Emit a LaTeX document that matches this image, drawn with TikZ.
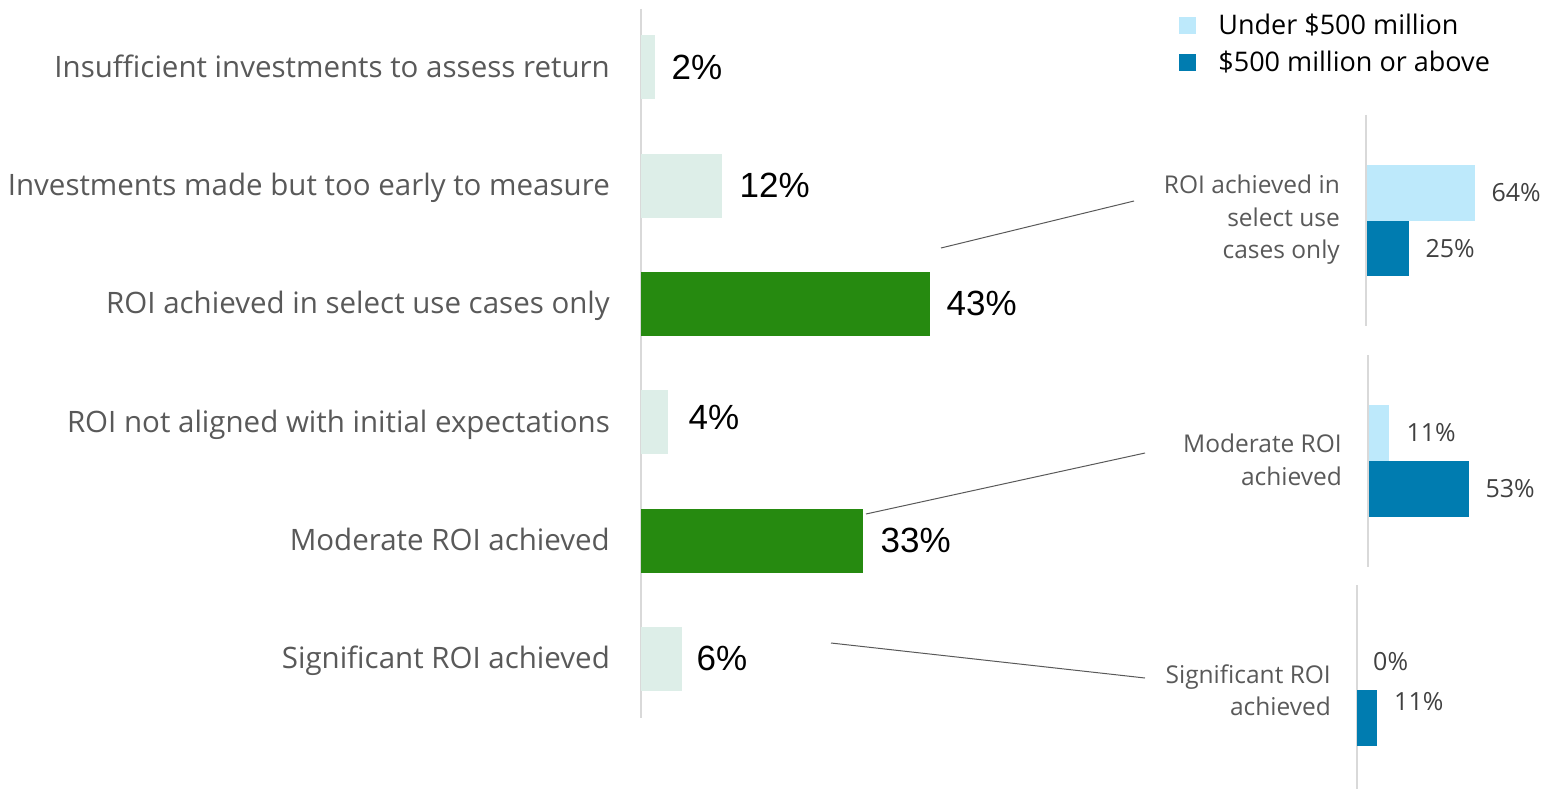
\documentclass[tikz,border=0pt]{standalone}
\usepackage{fontspec}
\setmainfont{Open Sans}
\newfontfamily\arialfont{Liberation Sans}
\usetikzlibrary{positioning}
\definecolor{barpale}{HTML}{DDEEE8}
\definecolor{bargreen}{HTML}{268A10}
\definecolor{blulight}{HTML}{BDE9FB}
\definecolor{bludark}{HTML}{007CB0}
\definecolor{txtgray}{HTML}{595959}
\definecolor{pctgray}{HTML}{404040}
\definecolor{axisgray}{HTML}{D9D9D9}
\begin{document}
\begin{tikzpicture}[x=1pt, y=-1pt]
\tikzstyle{axis} = [draw=axisgray,line width=2pt]
\tikzstyle{leader} = [draw=txtgray,line width=1pt]
\tikzstyle{bar} = [rectangle,inner sep=0pt,minimum height=64pt,anchor=west]
\tikzstyle{palebar} = [bar,fill=barpale]
\tikzstyle{greenbar} = [bar,fill=bargreen]
\tikzstyle{subbar} = [rectangle,inner sep=0pt,minimum height=55.5pt,anchor=north west]
\tikzstyle{lbl} = [inner sep=0pt,anchor=base east,text=txtgray,font=\fontsize{29.5}{34}\selectfont]
\tikzstyle{pct} = [inner sep=0pt,text=black,font=\arialfont\fontsize{35}{38}\selectfont]
\tikzstyle{sublbl} = [inner sep=0pt,text=txtgray,align=right,font=\fontsize{24.5}{32.5}\selectfont]
\tikzstyle{subpct} = [inner sep=0pt,text=pctgray,font=\fontsize{25}{30}\selectfont]
\tikzstyle{legbox} = [rectangle,inner sep=0pt,minimum size=17pt]
\tikzstyle{legtxt} = [inner sep=0pt,text=black,font=\fontsize{27}{32}\selectfont]
\useasboundingbox (0,0) rectangle (1552,789);

% main chart
\draw[axis] (641,9) -- (641,718);
\node[palebar,minimum width=14pt](b1) at (641,67.5){};
\node[palebar,minimum width=81pt](b2) at (641,185.5){};
\node[greenbar,minimum width=289pt](b3) at (641,303.5){};
\node[palebar,minimum width=27pt](b4) at (641,422){};
\node[greenbar,minimum width=222pt](b5) at (641,540.5){};
\node[palebar,minimum width=41pt](b6) at (641,658.5){};

\node[lbl](l1) at ([xshift=-31pt,yshift=-10pt]b1.west){Insufficient investments to assess return};
\node[lbl](l2) at ([xshift=-31pt,yshift=-10pt]b2.west){Investments made but too early to measure};
\node[lbl](l3) at ([xshift=-31pt,yshift=-10pt]b3.west){ROI achieved in select use cases only};
\node[lbl](l4) at ([xshift=-31pt,yshift=-10pt]b4.west){ROI not aligned with initial expectations};
\node[lbl](l5) at ([xshift=-31pt,yshift=-10pt]b5.west){Moderate ROI achieved};
\node[lbl](l6) at ([xshift=-31pt,yshift=-10pt]b6.west){Significant ROI achieved};

\node[pct,right=16pt of b1](p1){2\%};
\node[pct,right=17pt of b2](p2){12\%};
\node[pct,right=16pt of b3](p3){43\%};
\node[pct,right=20pt of b4,yshift=5pt](p4){4\%};
\node[pct,right=14pt of b6](p6){6\%};
\node[pct,right=17pt of b5](p5){33\%};

% legend
\node[legbox,fill=blulight](kU) at (1187.5,25.5){};
\node[legbox,fill=bludark](kA) at (1187.5,62.5){};
\node[legtxt,right=22pt of kU](tU){Under \$500 million};
\node[legtxt,right=22pt of kA](tA){\$500 million or above};

% breakdown: select use cases
\draw[axis] (1366,115) -- (1366,326);
\node[subbar,fill=blulight,minimum width=108pt](s1u) at (1367,165){};
\node[subbar,fill=bludark,minimum width=42pt](s1a) at (1367,220.5){};
\node[subpct,right=16pt of s1u](q1u){64\%};
\node[subpct,right=16pt of s1a](q1a){25\%};
\node[sublbl,anchor=east](m1) at (1340,220){ROI achieved in\\select use\\cases only};

% breakdown: moderate
\draw[axis] (1368,355) -- (1368,567);
\node[subbar,fill=blulight,minimum width=20pt](s2u) at (1369,405){};
\node[subbar,fill=bludark,minimum width=100pt](s2a) at (1369,461){};
\node[subpct,right=17pt of s2u](q2u){11\%};
\node[subpct,right=16pt of s2a](q2a){53\%};
\node[sublbl,anchor=east](m2) at (1342,460){Moderate ROI\\achieved};

% breakdown: significant
\draw[axis] (1357,585) -- (1357,789);
\node[subbar,fill=bludark,minimum width=20pt](s3a) at (1357,690){};
\node[subpct,anchor=west](q3u) at (1373,662){0\%};
\node[subpct,anchor=west](q3a) at (1394,702){11\%};
\node[sublbl,anchor=east](m3) at (1331,690){Significant ROI\\achieved};

% leaders
\coordinate(c3) at (941,248);
\coordinate(c3e) at (1134,201);
\coordinate(c5) at (866,514);
\coordinate(c5e) at (1145,453);
\coordinate(c6) at (831,643);
\coordinate(c6e) at (1145,678);
\draw[leader] (c3) -- (c3e);
\draw[leader] (c5) -- (c5e);
\draw[leader] (c6) -- (c6e);
\end{tikzpicture}
\end{document}
